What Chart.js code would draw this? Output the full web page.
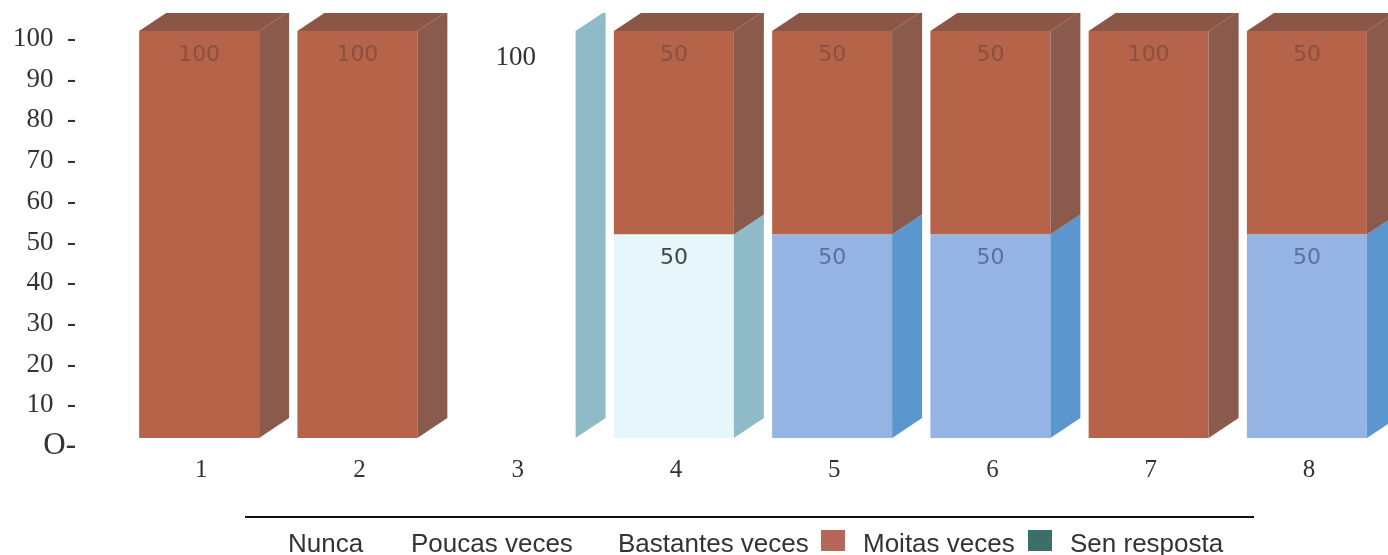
<!DOCTYPE html>
<html>
<head>
<meta charset="utf-8">
<title>Chart</title>
<style>
  html, body { margin: 0; padding: 0; background: #fff; overflow: hidden; }
  #wrap { position: relative; width: 1388px; height: 555px; }
  #rule { position: absolute; left: 245px; top: 516px; width: 1009px; height: 2px; background: #111; }
  .lg { position: absolute; top: 529px; font: 26px/28px "Liberation Sans", sans-serif; color: #333; white-space: nowrap; }
  .sw { position: absolute; top: 530px; width: 24px; height: 21px; }
</style>
<script src="https://cdn.jsdelivr.net/npm/chart.js@4"></script>
</head>
<body>
<div id="wrap">
  <canvas id="chart" width="1388" height="555"></canvas>
  <div id="rule"></div>
  <span class="lg" style="left:288px">Nunca</span>
  <span class="lg" style="left:411px">Poucas veces</span>
  <span class="lg" style="left:618px">Bastantes veces</span>
  <span class="sw" style="left:821px;background:#b5685a"></span>
  <span class="lg" style="left:863px">Moitas veces</span>
  <span class="sw" style="left:1028px;background:#3a6f6a"></span>
  <span class="lg" style="left:1070px">Sen resposta</span>
</div>
<script>
const categories = ["1", "2", "3", "4", "5", "6", "7", "8"];
const yTicks = [0, 10, 20, 30, 40, 50, 60, 70, 80, 90, 100];
const poucasValues = [0, 0, 100, 50, 0, 0, 0, 0];
const bastantesValues = [0, 0, 0, 0, 50, 50, 0, 50];
const moitasValues = [100, 100, 0, 50, 50, 50, 100, 50];

const depthX = 30;
const depthY = 20;
const clipTop = 13;

// side and top faces plus the value labels, taken from the bar elements
const box3d = {
  id: "box3d",
  afterDatasetsDraw(chart) {
    const ctx = chart.ctx;
    ctx.save();
    ctx.beginPath();
    ctx.rect(0, clipTop, chart.width, chart.height);
    ctx.clip();
    chart.data.datasets.forEach((ds, d) => {
      chart.getDatasetMeta(d).data.forEach((bar, i) => {
        if (!ds.data[i]) return;
        const right = bar.x + bar.width / 2;
        const left = bar.x - bar.width / 2;
        ctx.fillStyle = ds.sideColor;
        ctx.beginPath();
        ctx.moveTo(right, bar.y);
        ctx.lineTo(right + depthX, bar.y - depthY);
        ctx.lineTo(right + depthX, bar.base - depthY);
        ctx.lineTo(right, bar.base);
        ctx.closePath();
        ctx.fill();
        if (ds.topColor) {
          ctx.fillStyle = ds.topColor;
          ctx.beginPath();
          ctx.moveTo(left, bar.y);
          ctx.lineTo(left + depthX, bar.y - depthY);
          ctx.lineTo(right + depthX, bar.y - depthY);
          ctx.lineTo(right, bar.y);
          ctx.closePath();
          ctx.fill();
        }
      });
    });
    ctx.restore();

    ctx.save();
    ctx.textAlign = "center";
    ctx.textBaseline = "middle";
    chart.data.datasets.forEach((ds, d) => {
      chart.getDatasetMeta(d).data.forEach((bar, i) => {
        if (!ds.data[i]) return;
        const bar3 = i === 2;
        ctx.font = bar3 ? '27px "Liberation Serif"' : '22px "DejaVu Sans"';
        ctx.fillStyle = bar3 ? "#333" : (i === 3 && d === 0 ? "#33494f" : ds.labelColor);
        ctx.fillText(String(ds.data[i]), bar.x, bar.y + (bar3 ? 27 : 24));
      });
    });
    ctx.restore();
  },
};

new Chart(document.getElementById("chart"), {
  type: "bar",
  data: {
    labels: categories,
    datasets: [
      {
        label: "Poucas veces",
        data: poucasValues,
        backgroundColor: (c) => (c.dataIndex === 2 ? "#ffffff" : "#e6f6fb"),
        sideColor: "#8fbac8",
        labelColor: "#33494f",
      },
      {
        label: "Bastantes veces",
        data: bastantesValues,
        backgroundColor: "#95b3e3",
        sideColor: "#5c96cf",
        labelColor: "#56729f",
      },
      {
        label: "Moitas veces",
        data: moitasValues,
        backgroundColor: "#b5644a",
        sideColor: "#8a5a4c",
        topColor: "#8b5646",
        labelColor: "#8a5040",
      },
    ],
  },
  options: {
    responsive: false,
    animation: false,
    layout: { padding: { top: 31, right: 2, bottom: 0, left: 0 } },
    datasets: { bar: { categoryPercentage: 1, barPercentage: 0.758 } },
    plugins: { legend: { display: false }, tooltip: { enabled: false } },
    scales: {
      x: {
        stacked: true,
        grid: { display: false },
        border: { display: false },
        afterFit: (s) => { s.height = 117; },
        ticks: {
          color: "#333",
          font: { family: "Liberation Serif", size: 25 },
          padding: 9,
          labelOffset: 2,
          maxRotation: 0,
        },
      },
      y: {
        stacked: true,
        min: 0,
        max: 100,
        grid: { display: false, drawTicks: false },
        border: { display: false },
        afterFit: (s) => {
          s.width = 120;
          s.paddingTop = 0;
          s.paddingBottom = 0;
        },
        afterBuildTicks: (s) => { s.ticks = yTicks.map((v) => ({ value: v })); },
        ticks: {
          color: "#333",
          font: (c) => ({ family: "Liberation Serif", size: c.index === 0 ? 31 : 27 }),
          padding: 44,
          labelOffset: 8,
          autoSkip: false,
          callback: (v) => (v === 0 ? "O-" : v + "  -"),
        },
      },
    },
  },
  plugins: [box3d],
});
</script>
</body>
</html>
